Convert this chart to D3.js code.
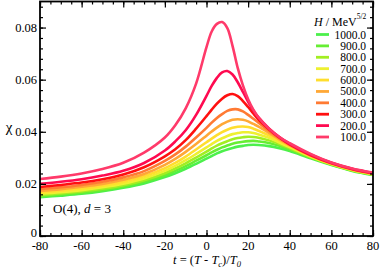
<!DOCTYPE html>
<html><head><meta charset="utf-8">
<script src="https://cdn.jsdelivr.net/npm/d3@7"></script>
<style>body{margin:0;background:#fff}svg{display:block}</style>
</head><body>
<svg id="c" width="382" height="269" font-family="'Liberation Serif', 'Times New Roman', Times, 'DejaVu Serif', serif"></svg>
<script>
const tValues = [-80,-70,-60,-50,-40,-30,-20,-15,-10,-5,0,2.5,5,7.5,10,12.5,15,17.5,20,22.5,25,30,35,40,50,60,70,80];
const hLabels = ["1000.0","900.0","800.0","700.0","600.0","500.0","400.0","300.0","200.0","100.0"];
const colors = ["#4cf04c","#66ee33","#a2ee22","#eef030","#ffde2e","#ffa836","#ff7a33","#ff1010","#ff0a50","#ff3a6a"];
const chi1000 = [.0149,.0155,.0162,.0172,.0185,.0202,.0226,.0241,.0258,.0277,.0297,.0307,.0317,.0325,.0332,.0338,.0343,.0346,.0349,.0350,.0349,.0345,.0337,.0326,.0298,.0272,.0250,.0234];
const chi900  = [.0153,.0159,.0166,.0176,.0190,.0208,.0233,.0250,.0268,.0289,.0310,.0321,.0331,.0340,.0347,.0354,.0359,.0362,.0364,.0365,.0363,.0357,.0346,.0332,.0301,.0274,.0251,.0235];
const chi800  = [.0157,.0163,.0171,.0181,.0195,.0214,.0241,.0259,.0279,.0301,.0324,.0336,.0347,.0356,.0364,.0371,.0376,.0379,.0381,.0380,.0377,.0367,.0353,.0337,.0303,.0275,.0252,.0236];
const chi700  = [.0162,.0168,.0176,.0187,.0201,.0221,.0250,.0269,.0291,.0315,.0340,.0353,.0365,.0375,.0384,.0391,.0395,.0398,.0398,.0395,.0390,.0377,.0359,.0341,.0305,.0276,.0253,.0237];
const chi600  = [.0167,.0174,.0182,.0193,.0208,.0229,.0260,.0281,.0305,.0332,.0360,.0374,.0387,.0399,.0408,.0415,.0419,.0420,.0418,.0412,.0404,.0386,.0365,.0345,.0307,.0277,.0254,.0238];
const chi500  = [.0173,.0180,.0189,.0200,.0216,.0238,.0273,.0296,.0323,.0353,.0385,.0401,.0416,.0429,.0439,.0446,.0448,.0446,.0440,.0430,.0420,.0396,.0371,.0348,.0309,.0278,.0255,.0239];
const chi400  = [.0180,.0187,.0196,.0208,.0225,.0249,.0288,.0313,.0343,.0378,.0415,.0435,.0453,.0468,.0480,.0486,.0486,.0478,.0465,.0450,.0435,.0404,.0375,.0350,.0310,.0279,.0256,.0240];
const chi300  = [.0188,.0196,.0205,.0218,.0236,.0264,.0306,.0333,.0368,.0412,.0460,.0485,.0508,.0527,.0540,.0545,.0537,.0518,.0495,.0470,.0447,.0410,.0378,.0352,.0311,.0280,.0257,.0241];
const chi200  = [.0200,.0208,.0218,.0232,.0250,.0280,.0328,.0363,.0406,.0465,.0538,.0576,.0607,.0628,.0633,.0620,.0590,.0553,.0515,.0482,.0455,.0413,.0380,.0354,.0313,.0281,.0258,.0242];
const chi100  = [.0219,.0228,.0240,.0257,.0281,.0320,.0378,.0425,.0490,.0585,.0725,.0785,.0814,.0821,.0798,.0730,.0645,.0578,.0525,.0485,.0455,.0412,.0380,.0356,.0315,.0282,.0259,.0243];
const series = [chi1000,chi900,chi800,chi700,chi600,chi500,chi400,chi300,chi200,chi100];
const xTicks = [-80,-60,-40,-20,0,20,40,60,80];
const yTicks = [0,0.02,0.04,0.06,0.08];
const yTickLabels = ["0","0.02","0.04","0.06","0.08"];

const svg = d3.select("#c");
const L=40,R=373,T=1.5,B=236;
const x = d3.scaleLinear().domain([-80,80]).range([L,R]);
const y = d3.scaleLinear().domain([0,0.09]).range([B,T]);

svg.append("clipPath").attr("id","clip").append("rect").attr("x",L).attr("y",T).attr("width",R-L).attr("height",B-T);
const line = d3.line().x((d,i)=>x(tValues[i])).y(d=>y(d)).curve(d3.curveCatmullRom.alpha(0.5));
const g = svg.append("g").attr("clip-path","url(#clip)");
series.forEach((s,i)=>{
  g.append("path").attr("d",line(s)).attr("fill","none").attr("stroke",colors[i]).attr("stroke-width",2.6).attr("stroke-linejoin","round");
});

svg.append("rect").attr("x",L).attr("y",T).attr("width",R-L).attr("height",B-T).attr("fill","none").attr("stroke","#000").attr("stroke-width",1.8);

const minorX = d3.range(-80,80.01,5);
const minorY = d3.range(0,0.0901,0.004);
function tickAxis(axis, tr){ const a=svg.append("g").attr("transform",tr).call(axis); a.select(".domain").remove(); a.selectAll("line").attr("stroke","#000").attr("stroke-width",1.2); return a;}
tickAxis(d3.axisBottom(x).tickValues(minorX).tickSize(-3).tickFormat(""), `translate(0,${B})`);
tickAxis(d3.axisBottom(x).tickValues(xTicks).tickSize(-6).tickFormat(""), `translate(0,${B})`);
tickAxis(d3.axisTop(x).tickValues(minorX).tickSize(-3).tickFormat(""), `translate(0,${T})`);
tickAxis(d3.axisTop(x).tickValues(xTicks).tickSize(-6).tickFormat(""), `translate(0,${T})`);
tickAxis(d3.axisLeft(y).tickValues(minorY).tickSize(-3).tickFormat(""), `translate(${L},0)`);
tickAxis(d3.axisLeft(y).tickValues(yTicks).tickSize(-6).tickFormat(""), `translate(${L},0)`);
tickAxis(d3.axisRight(y).tickValues(minorY).tickSize(-3).tickFormat(""), `translate(${R},0)`);
tickAxis(d3.axisRight(y).tickValues(yTicks).tickSize(-6).tickFormat(""), `translate(${R},0)`);

svg.append("g").selectAll("text").data(xTicks).join("text")
  .attr("x",d=>x(d)).attr("y",250).attr("text-anchor","middle").attr("font-size",12.5).text(d=>d);
svg.append("g").selectAll("text").data(yTicks).join("text")
  .attr("x",37).attr("y",(d,i)=>i===0?B+1:y(d)+4.5).attr("text-anchor","end").attr("font-size",12.5).text((d,i)=>yTickLabels[i]);

const xt = svg.append("text").attr("x",207).attr("y",264).attr("text-anchor","middle").attr("font-size",12.5);
xt.append("tspan").attr("font-style","italic").text("t");
xt.append("tspan").text(" = (");
xt.append("tspan").attr("font-style","italic").text("T");
xt.append("tspan").text(" - ");
xt.append("tspan").attr("font-style","italic").text("T");
xt.append("tspan").attr("font-style","italic").attr("font-size",8.5).attr("dy",3).text("c");
xt.append("tspan").attr("dy",-3).text(")/");
xt.append("tspan").attr("font-style","italic").text("T");
xt.append("tspan").attr("font-style","italic").attr("font-size",8.5).attr("dy",3).text("0");
svg.append("text").attr("x",9).attr("y",132).attr("text-anchor","middle").attr("font-size",15).text("χ");

const an = svg.append("text").attr("x",53).attr("y",213).attr("font-size",13);
an.append("tspan").text("O(4), ");
an.append("tspan").attr("font-style","italic").text("d");
an.append("tspan").text(" = 3");

const lt = svg.append("text").attr("x",314).attr("y",26).attr("font-size",12);
lt.append("tspan").attr("font-style","italic").text("H");
lt.append("tspan").text(" / MeV");
lt.append("tspan").attr("font-size",7.5).attr("dy",-7).text("5/2");
const rowY = d3.scaleLinear().domain([0,9]).range([34.5,137]);
hLabels.forEach((h,i)=>{
  svg.append("line").attr("x1",316).attr("x2",329).attr("y1",rowY(i)).attr("y2",rowY(i)).attr("stroke",colors[i]).attr("stroke-width",2.8);
  svg.append("text").attr("x",366).attr("y",rowY(i)+4).attr("text-anchor","end").attr("font-size",11.5).text(h);
});
</script>
</body></html>
